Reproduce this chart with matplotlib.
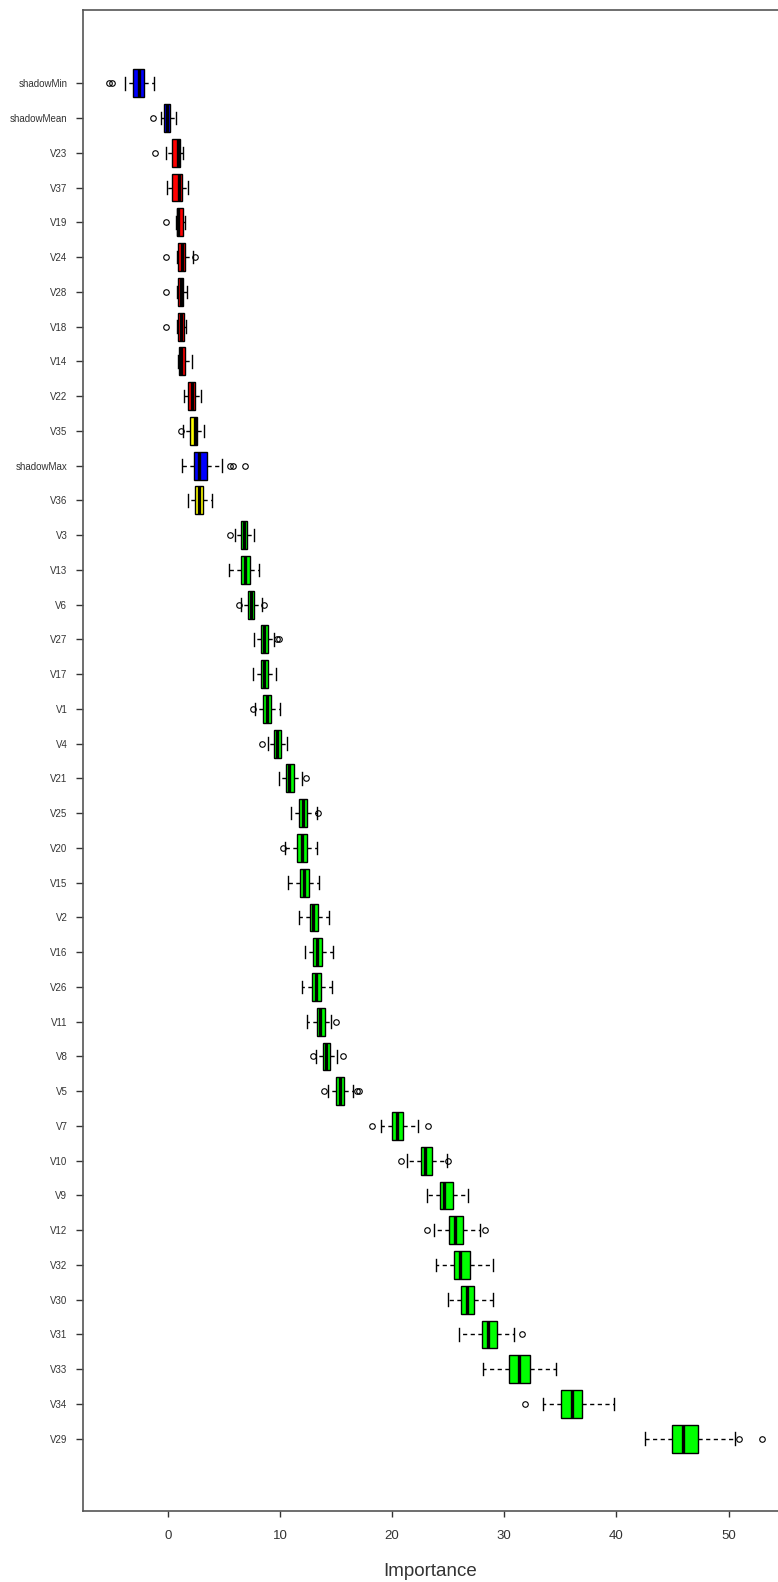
import numpy as np
import matplotlib
matplotlib.use("Agg")
import matplotlib.pyplot as plt

plt.rcParams['font.family'] = ['Liberation Sans', 'DejaVu Sans']

labels = ['shadowMin', 'shadowMean', 'V23', 'V37', 'V19', 'V24', 'V28', 'V18', 'V14', 'V22',
          'V35', 'shadowMax', 'V36', 'V3', 'V13', 'V6', 'V27', 'V17', 'V1', 'V4',
          'V21', 'V25', 'V20', 'V15', 'V2', 'V16', 'V26', 'V11', 'V8', 'V5',
          'V7', 'V10', 'V9', 'V12', 'V32', 'V30', 'V31', 'V33', 'V34', 'V29']

decision = ['shadow', 'shadow', 'rejected', 'rejected', 'rejected', 'rejected', 'rejected', 'rejected',
            'rejected', 'rejected', 'tentative', 'shadow', 'tentative'] + ['confirmed'] * 27

whislo = [-3.81, -0.59, -0.15, -0.09, 0.75, 0.85, 0.85, 0.85, 0.95, 1.45,
          1.34, 1.25, 1.78, 6.00, 5.43, 6.50, 7.69, 7.63, 7.78, 8.97,
          9.92, 11.00, 10.45, 10.75, 11.73, 12.24, 12.00, 12.44, 13.20, 14.30,
          18.98, 21.30, 23.14, 23.73, 23.91, 24.95, 25.99, 28.07, 33.48, 42.58]
q1 = [-3.12, -0.30, 0.38, 0.38, 0.85, 0.89, 0.89, 0.89, 1.04, 1.78,
      1.99, 2.34, 2.46, 6.53, 6.53, 7.13, 8.29, 8.32, 8.52, 9.47,
      10.54, 11.70, 11.55, 11.79, 12.68, 12.92, 12.83, 13.28, 13.80, 14.97,
      19.96, 22.55, 24.27, 25.10, 25.52, 26.14, 27.98, 30.45, 35.05, 44.95]
med = [-2.60, -0.09, 0.95, 1.00, 0.95, 1.25, 1.15, 1.20, 1.20, 2.17,
       2.40, 2.79, 2.82, 6.80, 6.92, 7.40, 8.58, 8.55, 8.82, 9.77,
       10.81, 12.09, 12.00, 12.18, 12.98, 13.28, 13.22, 13.57, 14.10, 15.36,
       20.40, 22.93, 24.66, 25.61, 26.05, 26.65, 28.58, 31.35, 36.00, 45.93]
q3 = [-2.11, 0.21, 1.13, 1.25, 1.40, 1.54, 1.39, 1.45, 1.57, 2.43,
      2.64, 3.47, 3.17, 7.10, 7.34, 7.72, 8.91, 8.97, 9.20, 10.10,
      11.26, 12.44, 12.39, 12.56, 13.40, 13.75, 13.63, 14.02, 14.50, 15.71,
      21.00, 23.53, 25.40, 26.29, 26.94, 27.33, 29.32, 32.25, 36.95, 47.30]
whishi = [-1.19, 0.74, 1.40, 1.78, 1.55, 2.23, 1.75, 1.60, 2.19, 2.99,
          3.24, 4.87, 3.92, 7.69, 8.17, 8.38, 9.47, 9.65, 10.00, 10.66,
          11.94, 13.28, 13.34, 13.45, 14.35, 14.70, 14.61, 14.52, 15.06, 16.49,
          22.34, 24.92, 26.80, 27.84, 29.03, 29.03, 30.90, 34.60, 39.78, 50.60]
outliers = [[-5.20, -4.96], [-1.28], [-1.13], [], [-0.15], [-0.15, 2.43], [-0.15], [-0.15], [], [],
            [1.16], [5.55, 5.85, 6.89], [], [5.55], [], [6.35, 8.58], [9.71, 9.89], [], [7.63], [8.37],
            [12.33], [13.40], [10.30], [], [], [], [], [15.00], [12.95, 15.65], [13.95, 16.85, 17.08],
            [18.18, 23.17], [20.76, 25.00], [], [23.14, 28.28], [], [], [31.55], [], [31.85], [50.92, 52.95]]

decision_colors = {'shadow': '#0000FF', 'rejected': '#FF0000',
                   'tentative': '#FFFF00', 'confirmed': '#00FF00'}
xticks = [0, 10, 20, 30, 40, 50]

W, H = 778, 1582
fig = plt.figure(figsize=(W / 100, H / 100), dpi=100)
left_px, top_px, bottom_px = 82.7, 10, 1511
ax = fig.add_axes([left_px / W, 1 - bottom_px / H, 1 - left_px / W, (bottom_px - top_px) / H])

stats = []
for i, lab in enumerate(labels):
    stats.append(dict(label=lab, whislo=whislo[i], q1=q1[i], med=med[i], q3=q3[i],
                      whishi=whishi[i], fliers=np.array(outliers[i])))

positions = np.arange(len(labels))
bp = ax.bxp(stats, positions=positions, widths=0.8, orientation='horizontal',
            patch_artist=True, showfliers=True, capwidths=0.36,
            boxprops=dict(edgecolor='black', linewidth=1.0),
            medianprops=dict(color='black', linewidth=2.4, solid_capstyle='butt'),
            whiskerprops=dict(color='black', linestyle=(0, (3, 2.5)), linewidth=1.0),
            capprops=dict(color='black', linewidth=1.0),
            flierprops=dict(marker='o', markerfacecolor='none', markeredgecolor='black',
                            markersize=4, markeredgewidth=0.8))
for patch, d in zip(bp['boxes'], decision):
    patch.set_facecolor(decision_colors[d])

ax.set_ylim(41.08, -2.11)
ax.set_xlim(-7.58, 54.4)
ax.set_xticks(xticks)
ax.set_xticklabels([str(t) for t in xticks])

for side in ['top', 'left', 'bottom']:
    ax.spines[side].set_color('#555555')
    ax.spines[side].set_linewidth(1.2)
ax.spines['right'].set_visible(False)

ax.tick_params(axis='y', length=5, width=1, pad=6, labelsize=7, color='#333333', labelcolor='#333333')
ax.tick_params(axis='x', length=4.5, width=1, pad=9, labelsize=9.5, color='#333333', labelcolor='#333333')
ax.set_xlabel('Importance', fontsize=13.5, color='#333333', labelpad=15)

fig.savefig('out.png', dpi=100)
